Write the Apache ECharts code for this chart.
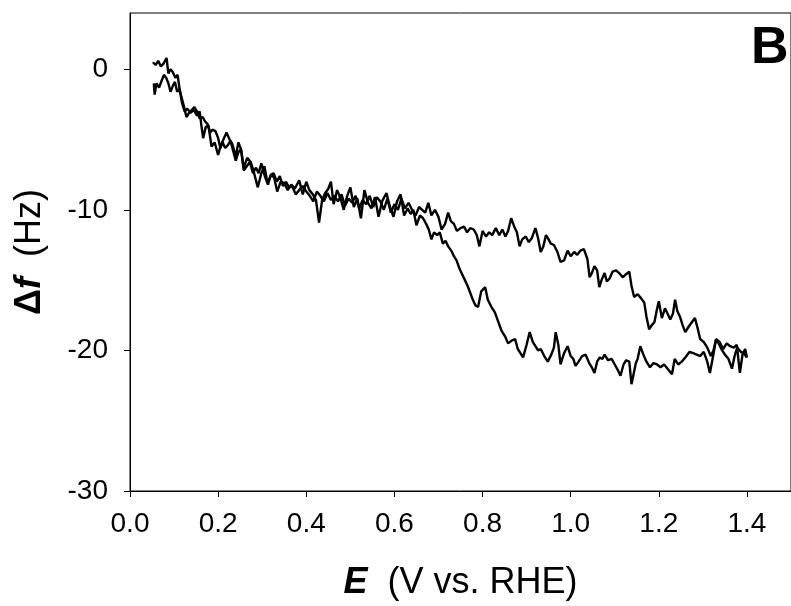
<!DOCTYPE html>
<html>
<head>
<meta charset="utf-8">
<script src="https://cdn.jsdelivr.net/npm/echarts@6/dist/echarts.min.js"></script>
<style>html,body{margin:0;padding:0;background:#fff}#c{width:791px;height:606px}</style>
</head>
<body>
<div id="c"></div>
<script>
// Forward sweep (0.05 V -> 1.4 V), lower branch at high potential
const fwdE = [0.052,0.058,0.064,0.07,0.076,0.083,0.087,0.092,0.097,0.103,0.108,0.113,0.118,0.124,0.13,0.137,0.145,0.152,0.158,0.162,0.166,0.172,0.178,0.185,0.192,0.2,0.206,0.212,0.219,0.226,0.232,0.24,0.246,0.252,0.258,0.266,0.274,0.28,0.29,0.298,0.305,0.312,0.32,0.327,0.334,0.342,0.35,0.358,0.366,0.374,0.384,0.392,0.4,0.407,0.415,0.422,0.429,0.436,0.443,0.45,0.456,0.462,0.47,0.478,0.485,0.492,0.5,0.508,0.516,0.524,0.532,0.54,0.548,0.556,0.564,0.572,0.582,0.59,0.598,0.606,0.614,0.622,0.63,0.637,0.643,0.65,0.658,0.665,0.672,0.678,0.684,0.69,0.697,0.703,0.71,0.716,0.722,0.729,0.735,0.741,0.748,0.754,0.76,0.766,0.772,0.778,0.784,0.79,0.797,0.806,0.812,0.82,0.828,0.835,0.843,0.851,0.858,0.866,0.874,0.88,0.886,0.892,0.9,0.907,0.914,0.92,0.926,0.932,0.94,0.948,0.956,0.962,0.966,0.972,0.977,0.985,0.993,1.0,1.006,1.011,1.018,1.026,1.034,1.042,1.048,1.054,1.06,1.066,1.072,1.077,1.085,1.093,1.1,1.107,1.113,1.12,1.126,1.133,1.138,1.142,1.148,1.152,1.158,1.165,1.172,1.18,1.188,1.196,1.204,1.212,1.22,1.23,1.236,1.244,1.252,1.26,1.27,1.278,1.286,1.294,1.302,1.31,1.316,1.322,1.33,1.336,1.342,1.35,1.358,1.366,1.372,1.378,1.386,1.393,1.4];
const fwdF = [0.5,0.3,0.6,0.2,0.4,0.8,-0.3,0.0,-0.2,-0.6,-0.4,-1.5,-2.4,-3.0,-2.8,-3.1,-2.9,-3.3,-3.0,-4.0,-4.9,-4.1,-4.0,-5.5,-5.2,-6.1,-5.4,-5.0,-4.5,-5.0,-5.3,-6.2,-5.2,-5.7,-7.0,-6.3,-6.6,-7.2,-8.4,-7.4,-6.9,-8.1,-7.5,-7.7,-8.7,-8.0,-8.1,-8.6,-8.2,-8.5,-7.9,-8.9,-8.0,-8.6,-8.9,-9.3,-10.9,-9.3,-8.8,-8.5,-8.0,-9.6,-8.6,-9.2,-10.0,-9.1,-8.4,-9.8,-9.2,-10.6,-8.6,-9.5,-9.9,-9.1,-10.5,-9.4,-8.8,-9.8,-10.5,-9.4,-8.9,-10.4,-9.9,-10.3,-10.0,-11.1,-10.4,-10.6,-11.0,-11.4,-12.1,-11.6,-11.8,-11.6,-12.4,-12.2,-12.6,-12.9,-13.3,-13.6,-14.2,-14.6,-15.0,-15.4,-15.9,-16.4,-16.8,-16.9,-15.8,-15.5,-16.4,-16.9,-17.3,-17.9,-18.6,-19.0,-19.5,-19.3,-19.2,-19.9,-20.2,-20.5,-19.6,-18.7,-19.4,-19.7,-20.0,-19.9,-20.4,-20.8,-20.3,-19.8,-18.7,-19.6,-21.0,-20.2,-19.7,-20.4,-20.6,-21.1,-20.8,-20.4,-20.3,-20.9,-21.2,-21.6,-20.8,-20.5,-20.6,-20.3,-20.7,-20.6,-21.0,-21.4,-21.8,-21.0,-20.7,-20.8,-22.4,-21.8,-20.9,-20.6,-19.7,-20.3,-20.8,-21.2,-20.9,-21.0,-21.2,-21.0,-21.3,-21.7,-20.6,-21.0,-20.8,-20.5,-20.1,-20.2,-20.3,-20.4,-20.1,-20.8,-21.6,-20.6,-19.2,-19.5,-19.9,-20.3,-20.6,-21.3,-20.4,-19.8,-20.1,-20.2,-20.5];

// Reverse sweep (1.4 V -> 0.05 V), upper branch at high potential
const revE = [1.4,1.396,1.39,1.384,1.377,1.37,1.362,1.354,1.346,1.338,1.33,1.324,1.318,1.31,1.302,1.294,1.288,1.282,1.275,1.268,1.26,1.254,1.248,1.242,1.237,1.232,1.226,1.22,1.214,1.207,1.2,1.195,1.19,1.184,1.178,1.172,1.167,1.16,1.152,1.144,1.138,1.133,1.125,1.118,1.11,1.103,1.095,1.088,1.082,1.077,1.07,1.065,1.06,1.054,1.048,1.043,1.038,1.03,1.022,1.015,1.008,1.0,0.993,0.985,0.977,0.97,0.962,0.955,0.948,0.944,0.938,0.932,0.926,0.92,0.912,0.905,0.898,0.89,0.884,0.878,0.872,0.865,0.858,0.852,0.845,0.838,0.83,0.822,0.815,0.808,0.8,0.793,0.787,0.78,0.772,0.765,0.758,0.75,0.742,0.735,0.728,0.722,0.715,0.707,0.7,0.692,0.684,0.677,0.67,0.663,0.656,0.648,0.64,0.632,0.624,0.616,0.608,0.6,0.592,0.584,0.576,0.568,0.56,0.552,0.544,0.536,0.528,0.52,0.512,0.504,0.496,0.488,0.48,0.472,0.464,0.456,0.448,0.44,0.432,0.424,0.416,0.408,0.4,0.392,0.384,0.376,0.368,0.361,0.354,0.347,0.34,0.333,0.326,0.32,0.313,0.306,0.298,0.292,0.286,0.279,0.272,0.265,0.258,0.252,0.246,0.24,0.234,0.228,0.222,0.216,0.21,0.205,0.2,0.194,0.187,0.182,0.176,0.17,0.165,0.158,0.152,0.146,0.14,0.134,0.128,0.122,0.117,0.112,0.107,0.102,0.097,0.092,0.087,0.082,0.077,0.072,0.066,0.06,0.056,0.054];
const revF = [-20.5,-19.9,-20.3,-21.6,-19.6,-19.8,-19.7,-19.5,-19.9,-19.4,-19.2,-20.0,-20.4,-19.8,-19.4,-19.2,-18.4,-17.7,-18.0,-18.3,-18.7,-18.2,-17.6,-17.2,-16.4,-17.4,-17.8,-17.4,-17.0,-17.7,-16.5,-17.2,-18.0,-18.2,-18.5,-17.6,-16.6,-16.3,-16.0,-16.2,-15.4,-14.4,-14.6,-14.8,-14.5,-14.3,-14.4,-14.9,-15.1,-14.5,-15.0,-15.5,-14.3,-14.0,-14.5,-14.8,-13.5,-12.8,-12.9,-13.2,-13.0,-13.3,-12.9,-13.6,-13.7,-13.0,-12.5,-12.4,-12.0,-11.8,-12.6,-13.0,-12.0,-11.3,-12.0,-12.3,-11.9,-12.1,-12.6,-11.6,-11.2,-10.6,-11.5,-11.9,-11.4,-11.8,-11.3,-11.8,-11.6,-11.9,-11.5,-12.6,-11.8,-11.4,-11.3,-11.6,-11.2,-11.3,-11.5,-11.0,-10.8,-10.2,-11.0,-11.4,-10.5,-10.0,-10.4,-9.5,-10.2,-10.0,-9.8,-10.4,-10.0,-9.5,-9.9,-9.2,-10.0,-9.6,-10.2,-9.2,-10.0,-9.4,-9.1,-9.8,-9.0,-9.6,-9.3,-9.9,-9.0,-9.5,-9.2,-9.7,-8.9,-9.4,-9.0,-9.3,-8.8,-9.4,-9.0,-8.7,-9.4,-9.0,-8.7,-8.3,-8.6,-8.9,-8.3,-8.4,-8.0,-8.3,-7.6,-8.0,-7.4,-7.5,-8.2,-7.6,-6.7,-7.4,-7.0,-7.4,-6.6,-6.9,-7.2,-5.7,-5.9,-6.5,-5.8,-5.1,-5.4,-5.6,-5.2,-5.6,-4.9,-4.4,-4.3,-4.5,-3.9,-3.7,-3.4,-3.5,-3.0,-2.7,-2.9,-3.1,-3.4,-2.6,-2.0,-1.4,-1.6,-0.9,-1.2,-1.6,-1.0,-0.6,-0.4,-0.8,-1.3,-1.0,-1.8,-1.0];

const xTicks = [0.0,0.2,0.4,0.6,0.8,1.0,1.2,1.4];
const yTicks = [-30,-20,-10,0];
const panelLabel = 'B';

const zip = (a, b) => a.map((v, i) => [v, b[i]]);
const FONT = 'Liberation Sans, Arial, Helvetica, sans-serif';

const chart = echarts.init(document.getElementById('c'), null, {renderer: 'canvas'});
chart.setOption({
  animation: false,
  backgroundColor: '#fff',
  grid: {left: 130, right: -4, top: 13, bottom: 114, show: true, borderColor: '#000', borderWidth: 1, backgroundColor: 'transparent'},
  xAxis: {
    type: 'value', min: 0, max: 1.5,
    splitLine: {show: false},
    axisLine: {show: true, onZero: false, lineStyle: {color: '#000', width: 1}},
    axisTick: {show: true, inside: false, length: 6, lineStyle: {color: '#000'}, customValues: xTicks},
    axisLabel: {customValues: xTicks, formatter: v => v.toFixed(1), fontSize: 28, fontFamily: FONT, color: '#000', margin: 19},
    name: '{b|E}  (V vs. RHE)',
    nameLocation: 'middle', nameGap: 74,
    nameTextStyle: {fontSize: 36, fontFamily: FONT, color: '#000', rich: {b: {fontSize: 36, fontFamily: FONT, fontWeight: 'bold', fontStyle: 'italic', color: '#000'}}}
  },
  yAxis: {
    type: 'value', min: -30, max: 4,
    splitLine: {show: false},
    axisLine: {show: true, onZero: false, lineStyle: {color: '#000', width: 1}},
    axisTick: {show: true, inside: false, length: 6, lineStyle: {color: '#000'}, customValues: yTicks},
    axisLabel: {customValues: yTicks, fontSize: 28, fontFamily: FONT, color: '#000', margin: 22},
    name: '{b|Δ}{bi|f}  (Hz)',
    nameLocation: 'middle', nameGap: 82,
    nameTextStyle: {fontSize: 36, fontFamily: FONT, color: '#000', rich: {
      b: {fontSize: 36, fontFamily: FONT, fontWeight: 'bold', color: '#000'},
      bi: {fontSize: 36, fontFamily: FONT, fontWeight: 'bold', fontStyle: 'italic', color: '#000'}
    }}
  },
  graphic: [{type: 'text', left: 751, top: 23, style: {text: panelLabel, font: 'bold 52px ' + FONT, fill: '#000'}}],
  series: [
    {type: 'line', data: zip(fwdE, fwdF), showSymbol: false, lineStyle: {color: '#000', width: 2.4}, smooth: false},
    {type: 'line', data: zip(revE, revF), showSymbol: false, lineStyle: {color: '#000', width: 2.4}, smooth: false}
  ]
});
</script>
</body>
</html>
